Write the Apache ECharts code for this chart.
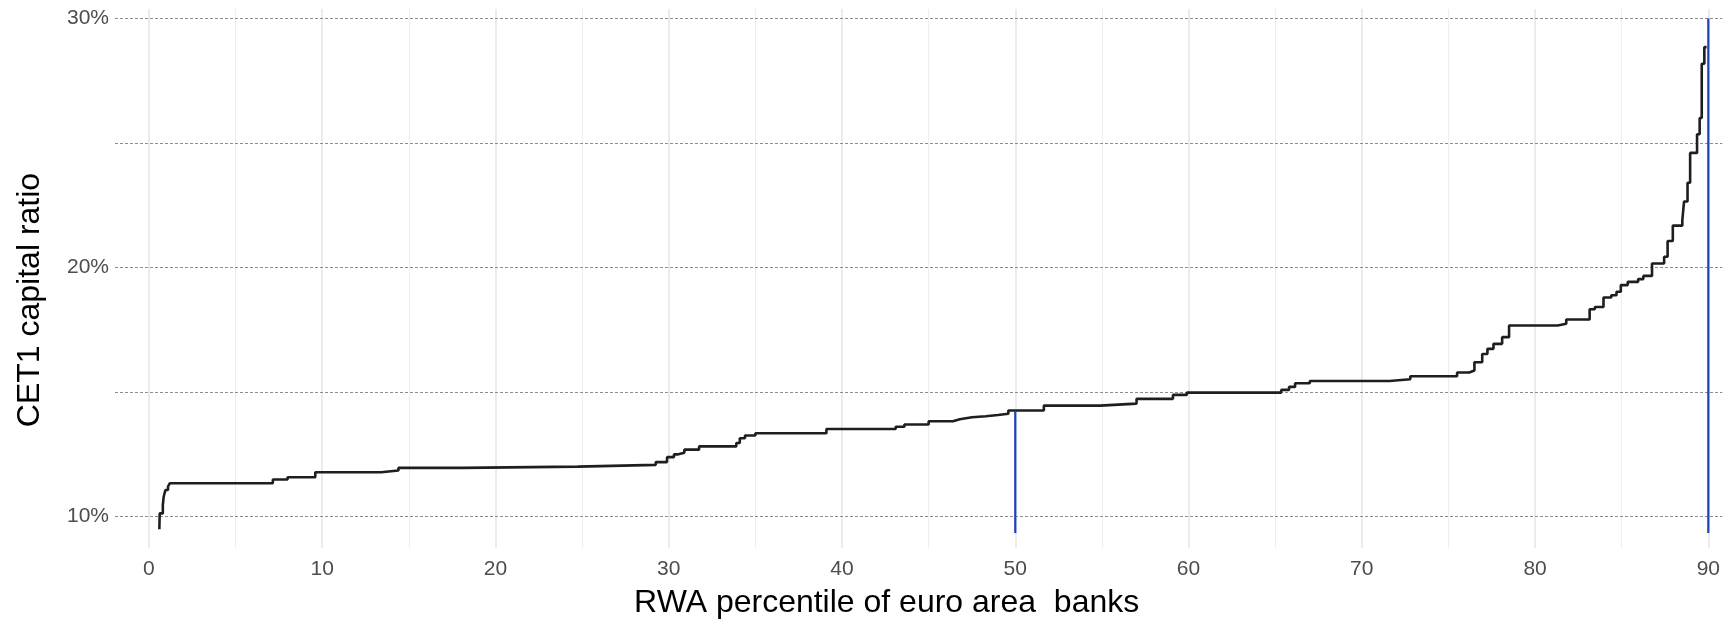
<!DOCTYPE html>
<html>
<head>
<meta charset="utf-8">
<script src="https://cdn.jsdelivr.net/npm/echarts@6/dist/echarts.min.js"></script>
<style>
html,body{margin:0;padding:0;background:#fff;}
#chart{width:1723px;height:627px;}
</style>
</head>
<body>
<div id="chart"></div>
<script>
// RWA percentile (x) where each CET1 ratio step (y, %) begins
const stepX = [0.6,0.62,0.8,0.85,0.95,1.1,1.2,7.15,8.0,9.6,13.4,14.4,18.1,24.76,29.25,29.9,30.3,30.5,30.9,31.75,33.9,34.1,34.4,35.0,39.1,43.1,43.6,45.0,46.4,46.8,47.5,48.3,49.0,49.6,51.65,54.9,57.0,59.1,59.9,65.35,65.8,66.15,67.0,71.6,72.8,75.5,76.2,76.5,76.95,77.25,77.6,78.1,78.5,81.3,81.8,83.15,83.45,83.95,84.4,84.7,84.95,85.35,85.95,86.25,86.75,87.45,87.65,87.95,88.5,88.6,88.8,88.95,89.35,89.5,89.62,89.77,89.9];
const stepY = [9.48,10.12,10.45,10.79,11.06,11.2,11.33,11.48,11.57,11.77,11.84,11.95,12.0,12.07,12.18,12.38,12.49,12.56,12.68,12.81,12.95,13.14,13.25,13.34,13.51,13.6,13.69,13.82,13.9,13.98,14.02,14.07,14.12,14.25,14.45,14.53,14.72,14.88,14.97,15.08,15.2,15.35,15.44,15.51,15.63,15.78,15.86,16.19,16.52,16.73,16.93,17.2,17.67,17.74,17.91,18.32,18.41,18.79,18.88,19.02,19.29,19.42,19.53,19.66,20.16,20.43,21.06,21.68,21.9,22.65,23.4,24.6,25.35,26.0,28.18,28.85,28.85];

// Blue reference lines (median and 90th percentile)
const refX = [50, 90];
const refYBottom = [9.33, 9.33];
const refYTop = [14.25, 30];

// Tick labels / grid values
const xTickValues = [0,10,20,30,40,50,60,70,80,90];
const xMinorGrid = [5,15,25,35,45,55,65,75,85];
const yTickValues = [10,20,30];
const yGridValues = [10,15,20,25,30];

const xTitle = 'RWA percentile of euro area  banks';
const yTitle = 'CET1 capital ratio';

const curve = stepX.map((x, i) => [x, stepY[i]]);
const refSeries = refX.map((x, i) => ({
  type: 'line', z: 4, symbol: 'none', silent: true,
  data: [[x, refYBottom[i]], [x, refYTop[i]]],
  lineStyle: { color: '#1a44b8', width: 2.2 }
}));

const chart = echarts.init(document.getElementById('chart'), null, { renderer: 'canvas' });
const FONT = '"Liberation Sans", Arial, sans-serif';
chart.setOption({
  animation: false,
  backgroundColor: '#ffffff',
  grid: { left: 115, right: 0, top: 9, bottom: 79, containLabel: false },
  xAxis: {
    type: 'value', min: -1.96, max: 90.81,
    axisLine: { show: false }, axisTick: { show: false },
    splitLine: { show: false },
    axisLabel: { customValues: xTickValues, color: '#4d4d4d', fontSize: 21, fontFamily: FONT, margin: 11 },
    name: xTitle, nameLocation: 'middle', nameGap: 39,
    nameTextStyle: { color: '#000', fontSize: 32, fontFamily: FONT, padding: [0, 64, 0, 0] }
  },
  yAxis: {
    type: 'value', min: 8.73, max: 30.38,
    axisLine: { show: false }, axisTick: { show: false },
    splitLine: { show: false },
    axisLabel: { customValues: yTickValues, formatter: v => v + '%', color: '#4d4d4d', fontSize: 21, fontFamily: FONT, margin: 6 },
    name: yTitle, nameLocation: 'middle', nameGap: 69, nameRotate: 90,
    nameTextStyle: { color: '#000', fontSize: 32, fontFamily: FONT, padding: [0, 43, 0, 0] }
  },
  series: [
    {
      type: 'line', z: 0, silent: true, data: [],
      markLine: {
        z: 0, silent: true, symbol: ['none', 'none'], label: { show: false }, animation: false,
        data: xTickValues.map(v => ({ xAxis: v, lineStyle: { color: '#e6e6e6', width: 1.6, type: 'solid' } }))
          .concat(xMinorGrid.map(v => ({ xAxis: v, lineStyle: { color: '#eeeeee', width: 1.2, type: 'solid' } })))
      }
    },
    {
      type: 'line', z: 1, silent: true, data: [],
      markLine: {
        z: 1, silent: true, symbol: ['none', 'none'], label: { show: false }, animation: false,
        data: yGridValues.map(v => ({ yAxis: v, lineStyle: { color: '#8c8c8c', width: 1, type: [3, 2] } }))
      }
    },
    {
      type: 'line', z: 3, symbol: 'none', step: 'end', silent: true,
      data: curve,
      lineStyle: { color: '#1e1e1e', width: 2.6 }
    }
  ].concat(refSeries)
});
</script>
</body>
</html>
